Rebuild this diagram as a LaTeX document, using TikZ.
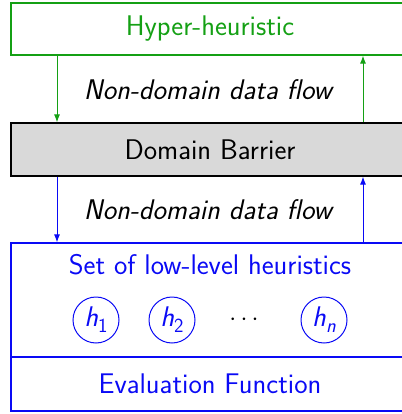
\documentclass[tikz,border=0pt]{standalone}
\usetikzlibrary{arrows.meta}
\definecolor{hgreen}{RGB}{20,160,20}
\definecolor{hblue}{RGB}{10,10,245}
\begin{document}
\begin{tikzpicture}[x=1pt,y=-1pt,
  every node/.style={font=\sffamily\fontsize{28.4}{34}\selectfont},
  layer/.style={draw,line width=1.2pt,minimum width=398pt,inner sep=0pt,anchor=center},
  flow/.style={line width=1pt,-{Latex[length=8pt,width=6pt]}},
  hnode/.style={draw=hblue,circle,line width=1pt,minimum size=46pt,inner sep=0pt,text=hblue}]
\useasboundingbox (0,0) rectangle (401,414);
\node[layer,draw=hgreen,text=hgreen,minimum height=52pt] (hyper) at (210,29) {Hyper-heuristic};
\node[layer,draw=black,fill=black!15,minimum height=53pt] (barrier) at (210,149.5) {Domain Barrier};
\node[layer,draw=hblue,minimum height=114pt] (set) at (210,300) {};
\node[layer,draw=hblue,text=hblue,minimum height=54pt] (eval) at (210,384) {Evaluation Function};
\node[text=hblue] (setlabel) at (210,265) {Set of low-level heuristics};
\node[hnode] (h1) at (96,320) {\textit{h}\raisebox{-0.22em}{\fontsize{20}{22}\selectfont 1}};
\node[hnode] (h2) at (172,320) {\textit{h}\raisebox{-0.22em}{\fontsize{20}{22}\selectfont 2}};
\node (dots) at (244,320) {$\cdots$};
\node[hnode] (hn) at (324,320) {\textit{h}\raisebox{-0.22em}{\fontsize{20}{22}\selectfont\textit{n}}};
\node (flow1) at (209,90) {\textit{Non-domain data flow}};
\node (flow2) at (209,210) {\textit{Non-domain data flow}};
\coordinate (lx) at (57,0);
\coordinate (rx) at (363,0);
\draw[flow,hgreen] (hyper.south -| lx) -- (barrier.north -| lx);
\draw[flow,hgreen] (barrier.north -| rx) -- (hyper.south -| rx);
\draw[flow,hblue] (barrier.south -| lx) -- (set.north -| lx);
\draw[flow,hblue] (set.north -| rx) -- (barrier.south -| rx);
\end{tikzpicture}
\end{document}
